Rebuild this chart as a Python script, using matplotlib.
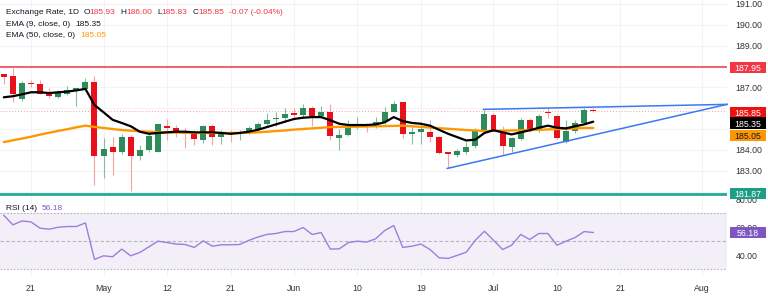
import matplotlib
matplotlib.use("Agg")
import matplotlib.pyplot as plt
from matplotlib.patches import Rectangle

plt.rcParams['font.family'] = ['Liberation Sans', 'DejaVu Sans']

# ---------------- data ----------------
dates = ["2025-04-16", "2025-04-17", "2025-04-18", "2025-04-21", "2025-04-22", "2025-04-23",
         "2025-04-24", "2025-04-25", "2025-04-28", "2025-04-29", "2025-04-30", "2025-05-01",
         "2025-05-02", "2025-05-05", "2025-05-06", "2025-05-07", "2025-05-08", "2025-05-09",
         "2025-05-12", "2025-05-13", "2025-05-14", "2025-05-15", "2025-05-16", "2025-05-19",
         "2025-05-20", "2025-05-21", "2025-05-22", "2025-05-23", "2025-05-26", "2025-05-27",
         "2025-05-28", "2025-05-29", "2025-05-30", "2025-06-02", "2025-06-03", "2025-06-04",
         "2025-06-05", "2025-06-06", "2025-06-09", "2025-06-10", "2025-06-11", "2025-06-12",
         "2025-06-13", "2025-06-16", "2025-06-17", "2025-06-18", "2025-06-19", "2025-06-20",
         "2025-06-23", "2025-06-24", "2025-06-25", "2025-06-26", "2025-06-27", "2025-06-30",
         "2025-07-01", "2025-07-02", "2025-07-03", "2025-07-04", "2025-07-07", "2025-07-08",
         "2025-07-09", "2025-07-10", "2025-07-11", "2025-07-14", "2025-07-15", "2025-07-16"]

opens = [187.62, 187.52, 186.44, 187.20, 187.14, 186.69, 186.53, 186.66, 186.88, 186.92,
         187.27, 183.69, 184.13, 183.88, 184.61, 183.72, 183.98, 183.91, 185.13, 185.03,
         184.87, 184.84, 184.49, 185.16, 184.61, 184.81, 184.77, 184.80, 184.99, 185.22,
         185.48, 185.54, 185.77, 185.67, 186.02, 185.61, 185.80, 184.55, 184.71, 185.13,
         185.25, 185.13, 185.35, 185.83, 186.28, 184.74, 184.87, 184.87, 184.61, 183.88,
         183.75, 183.91, 184.20, 184.94, 185.67, 184.94, 184.13, 184.52, 185.44, 185.00,
         185.83, 185.61, 184.39, 184.90, 185.29, 185.93]
highs = [187.64, 187.94, 187.30, 187.36, 187.36, 186.95, 186.88, 187.07, 186.98, 187.46,
         187.55, 184.58, 184.61, 184.77, 184.71, 184.23, 184.77, 185.25, 185.48, 185.19,
         185.06, 184.94, 185.19, 185.22, 184.94, 184.94, 184.94, 185.13, 185.35, 185.77,
         185.80, 186.02, 185.99, 186.21, 186.11, 186.11, 186.21, 185.00, 185.42, 185.57,
         185.29, 185.57, 186.05, 186.34, 186.31, 185.19, 185.35, 185.42, 184.65, 183.91,
         184.04, 184.39, 185.03, 185.92, 185.77, 185.13, 184.61, 185.54, 185.51, 185.70,
         186.02, 185.70, 185.42, 185.42, 185.99, 186.00]
lows = [187.16, 186.31, 186.35, 187.01, 186.66, 186.47, 186.47, 186.63, 186.09, 186.88,
        182.31, 182.63, 182.79, 183.81, 182.03, 183.50, 183.91, 183.88, 184.46, 184.61,
        184.07, 184.23, 184.33, 184.23, 184.29, 184.39, 184.45, 184.77, 184.94, 185.16,
        185.16, 185.38, 185.42, 185.51, 185.13, 185.51, 184.49, 184.00, 184.65, 185.00,
        184.84, 185.06, 185.25, 185.80, 184.55, 184.29, 184.29, 184.39, 183.79, 183.14,
        183.66, 183.79, 184.10, 184.87, 184.90, 183.75, 183.91, 184.49, 184.87, 184.84,
        185.51, 184.52, 184.33, 184.80, 185.25, 185.83]
closes = [187.49, 186.66, 187.22, 187.14, 186.69, 186.57, 186.79, 186.88, 186.95, 187.24,
          183.72, 184.04, 183.88, 184.61, 183.72, 184.00, 184.68, 185.22, 185.03, 184.84,
          184.77, 184.52, 185.13, 184.61, 184.77, 184.74, 184.84, 185.03, 185.25, 185.44,
          185.54, 185.70, 185.67, 185.99, 185.61, 185.80, 184.68, 184.71, 185.09, 185.22,
          185.16, 185.32, 185.83, 186.21, 184.74, 184.87, 185.00, 184.61, 183.85, 183.79,
          183.94, 184.13, 184.97, 185.70, 184.97, 184.17, 184.55, 185.44, 184.94, 185.61,
          185.77, 184.58, 184.90, 185.29, 185.92, 185.85]

ema9 = [186.52, 186.57, 186.66, 186.76, 186.76, 186.72, 186.76, 186.79, 186.85, 186.92,
        186.15, 185.80, 185.44, 185.29, 185.13, 184.87, 184.77, 184.81, 184.84, 184.87,
        184.87, 184.84, 184.84, 184.84, 184.81, 184.77, 184.81, 184.87, 184.96, 185.09,
        185.22, 185.35, 185.48, 185.54, 185.57, 185.57, 185.42, 185.25, 185.19, 185.19,
        185.19, 185.22, 185.32, 185.57, 185.38, 185.29, 185.25, 185.16, 184.96, 184.77,
        184.61, 184.45, 184.49, 184.81, 184.94, 184.84, 184.74, 184.84, 184.94, 185.06,
        185.16, 185.06, 185.03, 185.13, 185.22, 185.35]
ema50 = [184.37, 184.46, 184.54, 184.63, 184.73, 184.82, 184.91, 184.99, 185.08, 185.16,
         185.10, 185.05, 185.00, 184.95, 184.92, 184.89, 184.87, 184.84, 184.84, 184.83,
         184.82, 184.81, 184.81, 184.81, 184.81, 184.81, 184.81, 184.82, 184.84, 184.87,
         184.90, 184.93, 184.97, 185.00, 185.03, 185.06, 185.09, 185.10, 185.10, 185.11,
         185.12, 185.13, 185.14, 185.15, 185.16, 185.13, 185.10, 185.07, 185.04, 185.01,
         184.98, 184.95, 184.93, 184.90, 184.91, 184.92, 184.93, 184.94, 184.95, 184.96,
         184.98, 185.00, 185.01, 185.03, 185.05, 185.05]
rsi = [68.5, 61.7, 64.5, 63.8, 59.3, 58.6, 60.0, 60.5, 60.5, 63.1,
       36.9, 39.5, 38.8, 44.3, 39.5, 41.9, 45.9, 50.0, 49.0, 47.9,
       47.6, 45.5, 50.2, 46.4, 47.4, 47.4, 47.6, 50.5, 52.9, 54.8,
       55.5, 56.9, 56.9, 59.8, 54.8, 56.2, 44.3, 44.5, 49.0, 50.0,
       49.3, 51.7, 57.6, 61.2, 45.5, 46.4, 47.9, 44.0, 38.1, 37.6,
       39.8, 42.1, 50.7, 57.1, 50.7, 44.0, 47.1, 54.8, 51.2, 55.5,
       55.5, 47.1, 50.0, 52.6, 56.9, 56.18]

resistance_level = 187.95
support_level = 181.87
last_close = 185.85
ema9_last = 185.35
ema50_last = 185.05
rsi_last = 56.18

upper_x = [52.9, 79.75]
upper_y = [185.94, 186.18]
lower_x = [48.9, 79.75]
lower_y = [183.11, 186.18]

tick_pos = [3, 11, 18, 25, 32, 39, 46, 54, 61, 68, 77]
tick_labels = ["21", "May", "12", "21", "Jun", "10", "19", "Jul", "10", "21", "Aug"]
price_ticks = [191, 190, 189, 188, 187, 186, 185, 184, 183, 182]
price_tick_labels = ["191.00", "190.00", "189.00", "", "187.00", "", "", "184.00", "183.00", ""]
rsi_ticks = [80, 60, 40]
rsi_tick_labels = ["80.00", "60.00", "40.00"]

# ---------------- styling ----------------
W, H = 768, 300
GREEN = "#2e8c5a"
RED = "#e8101b"
GREEN_WICK = "#86bd9c"
RED_WICK = "#f5a3a3"
TXT = "#131722"
GRID = "#f2f3f5"
PURPLE = "#7e57c2"

fig = plt.figure(figsize=(W / 100, H / 100), dpi=100)
fig.patch.set_facecolor("white")

xl = (-0.42, 79.75)
ax = fig.add_axes([0, 1 - 196 / H, 727 / W, 196 / H])
ax2 = fig.add_axes([0, 1 - 276 / H, 727 / W, 80 / H])
ax.set_zorder(2)
ax2.set_zorder(1)

for a in (ax, ax2):
    a.set_xlim(*xl)
    for s in a.spines.values():
        s.set_visible(False)
    a.set_facecolor("none")
    a.set_xticks(tick_pos)
    a.grid(True, axis="x", color=GRID, lw=0.8, zorder=0)

ax.set_ylim(181.79, 191.18)
ax.set_yticks(price_ticks)
ax.set_yticklabels(price_tick_labels)
ax.yaxis.tick_right()
ax.tick_params(axis="y", length=0, pad=6.3, labelsize=6.3, labelcolor="#333333")
ax.tick_params(axis="x", length=0, labelbottom=False)
ax.grid(True, axis="y", color=GRID, lw=0.8, zorder=0)

# candles
idx = list(range(len(opens)))
body_bottom = [min(o, c) for o, c in zip(opens, closes)]
body_h = [max(abs(c - o), 0.06) for o, c in zip(opens, closes)]
cols = [GREEN if c >= o else RED for o, c in zip(opens, closes)]
wcols = [GREEN_WICK if c >= o else RED_WICK for o, c in zip(opens, closes)]
ax.vlines(idx, lows, highs, colors=wcols, lw=0.8, zorder=3)
ax.bar(idx, body_h, bottom=body_bottom, width=0.66, color=cols, edgecolor="none", zorder=4)

# EMAs
ax.plot(idx, ema50, color="#ff9800", lw=1.7, zorder=5, solid_capstyle="round")
ax.plot(idx, ema9, color="black", lw=1.6, zorder=6, solid_capstyle="round")

# horizontal levels
ax.axhline(resistance_level, color="#f23645", lw=1.1, zorder=2)
ax.axhline(support_level, color="#22ab94", lw=2.0, zorder=2)
ax.axhline(last_close, color="#f5a0a0", lw=0.7, ls=(0, (1, 2)), zorder=2)

# triangle lines
ax.plot(upper_x, upper_y, color="#3b78f2", lw=1.1, zorder=5, clip_on=False)
ax.plot(lower_x, lower_y, color="#3b78f2", lw=1.1, zorder=5, clip_on=False)

# RSI pane
ax2.set_ylim(25.0, 82.4)
ax2.axhspan(30, 70, color=PURPLE, alpha=0.09, lw=0, zorder=1)
ax2.axhline(70, color="#b2b5be", lw=0.8, ls=(0, (1.5, 1.5)), zorder=2)
ax2.axhline(30, color="#b2b5be", lw=0.8, ls=(0, (1.5, 1.5)), zorder=2)
ax2.axhline(50, color="#b2b5be", lw=0.8, ls=(0, (3, 2)), zorder=2)
ax2.plot(idx, rsi, color="#9b7fdc", lw=1.0, zorder=3)
ax2.set_yticks(rsi_ticks)
ax2.set_yticklabels(rsi_tick_labels)
ax2.yaxis.tick_right()
ax2.tick_params(axis="y", length=0, pad=6.3, labelsize=6.3, labelcolor="#333333")
ax2.set_xticklabels(tick_labels)
ax2.tick_params(axis="x", length=0, pad=6.0, labelsize=6.3, labelcolor="#333333")

fig.canvas.draw()


def price_box(a, value, text, bg, fg, dy_px=0.0):
    ycen = a.transData.transform((0, value))[1] - dy_px
    x0, w, h = 729.5, 36.5, 11.5
    fig.add_artist(Rectangle((x0 / W, (ycen - h / 2) / H), w / W, h / H,
                             transform=fig.transFigure, facecolor=bg,
                             edgecolor="none", zorder=5))
    fig.text((x0 + w / 2) / W, ycen / H, text, ha="center", va="center_baseline",
             color=fg, fontsize=6.3, zorder=6)


price_box(ax, resistance_level, f"{resistance_level:.2f}", "#f23645", "white")
price_box(ax, last_close, f"{last_close:.2f}", "#ee1111", "white", 1.0)
price_box(ax, ema9_last, f"{ema9_last:.2f}", "black", "white", 1.4)
price_box(ax, ema50_last, f"{ema50_last:.2f}", "#ff9800", TXT, 7.4)
price_box(ax, support_level, f"{support_level:.2f}", "#1f9e86", "white", -1.0)
price_box(ax2, rsi_last, f"{rsi_last:.2f}", PURPLE, "white")


def chain(pieces, x_px, y_px, size=6.0):
    prev = None
    for s, c, gap in pieces:
        if prev is None:
            prev = ax.annotate(s, xy=(x_px, H - y_px), xycoords="figure pixels",
                               ha="left", va="center", color=c, fontsize=size,
                               annotation_clip=False, zorder=10)
        else:
            prev = ax.annotate(s, xy=(1, 0), xycoords=prev, xytext=(gap, 0),
                               textcoords="offset points", ha="left", va="bottom",
                               color=c, fontsize=size, annotation_clip=False, zorder=10)
    return prev


VR = "#f23645"
chain([("Exchange Rate, 1D", TXT, 0), ("O", TXT, 3.0), ("185.93", VR, 0),
       ("H", TXT, 3.5), ("186.00", VR, 0), ("L", TXT, 3.5), ("185.83", VR, 0),
       ("C", TXT, 3.5), ("185.85", VR, 0), ("-0.07 (-0.04%)", VR, 3.5)], 6, 12.3)
chain([("EMA (9, close, 0)", TXT, 0), ("185.35", TXT, 3.5)], 6, 24)
chain([("EMA (50, close, 0)", TXT, 0), ("185.05", "#ff9800", 3.5)], 6, 35.5)
chain([("RSI (14)", TXT, 0), ("56.18", PURPLE, 3.5)], 6, 209)

fig.savefig("out.png", dpi=100, facecolor="white")
